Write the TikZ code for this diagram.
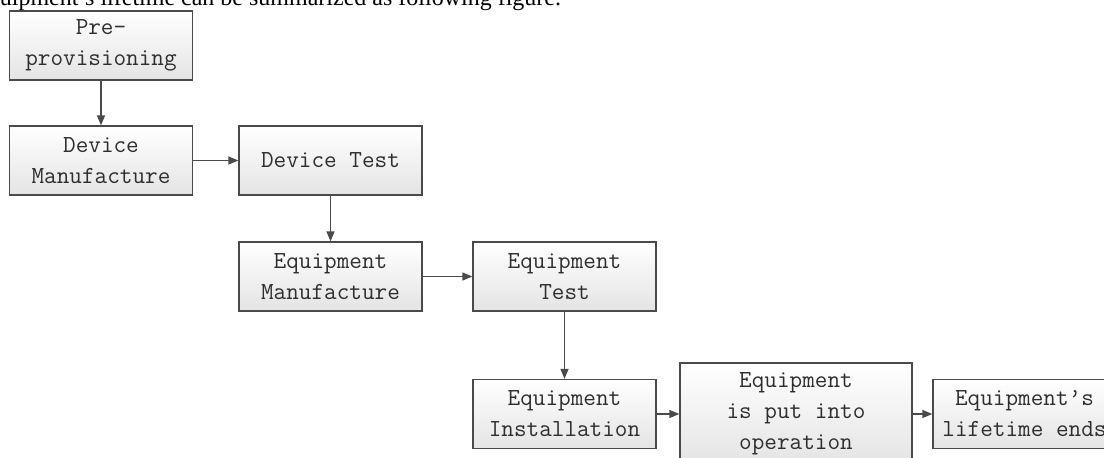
\documentclass[tikz,border=0pt]{standalone}
\usepackage{fontspec}
\setmainfont{Liberation Serif}
\usetikzlibrary{arrows.meta}
\definecolor{edge}{HTML}{4A4A4A}
\definecolor{boxbot}{HTML}{E4E4E4}
\definecolor{txt}{HTML}{2E2E2E}
\tikzset{
  stage/.style={draw=edge, line width=1.3pt, top color=white, bottom color=boxbot,
    minimum width=183pt, minimum height=69pt, inner sep=0pt, align=center,
    text=txt, font=\ttfamily\fontsize{24.5pt}{31pt}\selectfont},
  wide/.style={minimum width=232pt, minimum height=102pt},
  flow/.style={draw=edge, line width=1.3pt, -{Triangle[length=10pt,width=8pt]}}
}
\begin{document}
\begin{tikzpicture}[x=1pt,y=-1pt]
\clip (0,0) rectangle (1104,458);
\fill[white] (0,0) rectangle (1104,458);
\node[anchor=base west, inner sep=0pt, font=\fontsize{24pt}{28pt}\selectfont] (title) at (-27,5) {Equipment’s lifetime can be summarized as following figure.};
\node[stage] (pre) at (101,45.5) {Pre-\\provisioning};
\node[stage] (devman) at (101,160.5) {Device\\Manufacture};
\node[stage] (devtest) at (330.5,160.5) {Device Test};
\node[stage] (eqman) at (330.5,276.5) {Equipment\\Manufacture};
\node[stage] (eqtest) at (564.5,276.5) {Equipment\\Test};
\node[stage] (install) at (564.5,414) {Equipment\\Installation};
\node[stage, wide] (oper) at (796,414) {Equipment\\is put into\\operation};
\node[stage] (ends) at (1024.5,414) {Equipment’s\\lifetime ends};
\draw[flow] (pre) -- (devman);
\draw[flow] (devman) -- (devtest);
\draw[flow] (devtest) -- (eqman);
\draw[flow] (eqman) -- (eqtest);
\draw[flow] (eqtest) -- (install);
\draw[flow] (install) -- (oper);
\draw[flow] (oper) -- (ends);
\end{tikzpicture}
\end{document}
